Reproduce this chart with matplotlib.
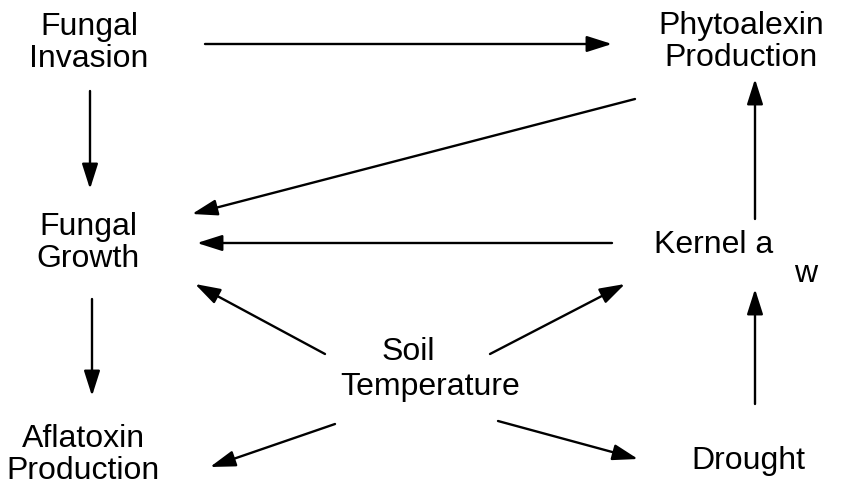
# flow diagram: soil temperature, drought and aflatoxin
import matplotlib.pyplot as plt

# node labels and where their centres sit (pixel coords, y down)
labels = ['Fungal\nInvasion', 'Phytoalexin\nProduction', 'Fungal\nGrowth',
          'Kernel a', 'w', 'Soil', 'Temperature',
          'Aflatoxin\nProduction', 'Drought']
label_x = [89, 741, 88, 714, 806, 408, 430, 83, 748]
label_y = [43, 42, 243, 245, 274, 352, 387, 455, 461]

# arrows: tail -> head
arrow_from = [(205, 45), (90, 92), (635, 100), (612, 244), (755, 220),
              (92, 300), (755, 405), (325, 355), (490, 355),
              (335, 425), (498, 422)]
arrow_to = [(612, 45), (90, 190), (192, 215), (197, 244), (755, 80),
            (92, 397), (755, 290), (195, 285), (625, 285),
            (210, 468), (638, 460)]

plt.rcParams['font.family'] = ['Liberation Sans', 'DejaVu Sans']

fig = plt.figure(figsize=(8.44, 4.89), dpi=100)
ax = fig.add_axes([0, 0, 1, 1])
ax.set_xlim(0, 844)
ax.set_ylim(489, 0)
ax.axis('off')

for text, x, y in zip(labels, label_x, label_y):
    ax.text(x, y, text, ha='center', va='center', fontsize=23,
            linespacing=1.05, color='black')

for (x0, y0), (x1, y1) in zip(arrow_from, arrow_to):
    ax.annotate('', xy=(x1, y1), xytext=(x0, y0),
                arrowprops=dict(arrowstyle='-|>,head_length=1.1,head_width=0.35',
                                color='black', lw=1.7, shrinkA=0, shrinkB=0,
                                mutation_scale=14))

fig.savefig('out.png', dpi=100)
